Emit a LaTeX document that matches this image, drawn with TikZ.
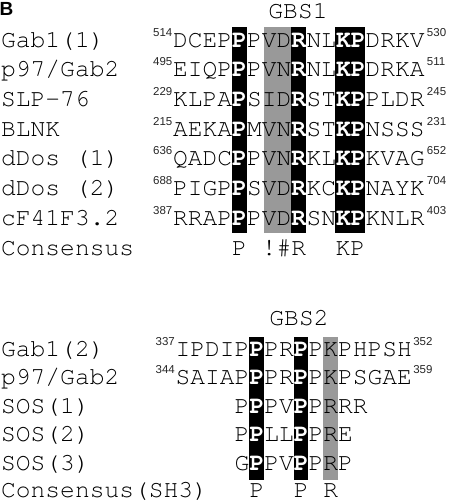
\documentclass[tikz,border=0pt]{standalone}
\usepackage{fontspec}
\setmonofont{TeX Gyre Cursor}
\setsansfont{Liberation Sans}
\usetikzlibrary{positioning}
\newcommand{\hl}[1]{\textcolor{white}{\textbf{#1}}}
\tikzset{
  seq/.style={inner sep=0pt,anchor=base west,font=\fontsize{24.6}{24.6}\selectfont\ttfamily},
  num/.style={inner sep=0pt,font=\fontsize{11.5}{11.5}\selectfont\sffamily,text=black!85},
  band/.style={fill=black!40},
  head/.style={seq,anchor=base,text height=14pt}
}
\begin{document}
\begin{tikzpicture}[x=1pt,y=-1pt]
\useasboundingbox (0,0) rectangle (450,504);
\node[inner sep=0pt,anchor=base west,font=\fontsize{19}{19}\sffamily\bfseries\selectfont] (panel) at (-0.5,15) {B};
% GBS1
\fill[band] (173+6*14.76+2,27) rectangle ++(2*14.76-2,206);
\foreach \c in {4,8,11,12} \fill (173+\c*14.76,27) rectangle ++(14.76,206);
\node[head] (gbs1) at (298,18.5) {GBS1};
\node[seq] (la) at (1,47) {Gab1(1)};
\node[seq] (lb) at (1,76.7) {p97/Gab2};
\node[seq] (lc) at (1,106.4) {SLP-76};
\node[seq] (ld) at (1,136.1) {BLNK};
\node[seq] (le) at (1,165.8) {dDos (1)};
\node[seq] (lf) at (1,195.5) {dDos (2)};
\node[seq] (lg) at (1,225.2) {cF41F3.2};
\node[seq] (lcons) at (1,255.5) {Consensus};
\node[seq] (sa) at (173,47) {DCEP\hl{P}PVD\hl{R}NL\hl{KP}DRKV};
\node[seq] (sb) at (173,76.7) {EIQP\hl{P}PVN\hl{R}NL\hl{KP}DRKA};
\node[seq] (sc) at (173,106.4) {KLPA\hl{P}SID\hl{R}ST\hl{KP}PLDR};
\node[seq] (sd) at (173,136.1) {AEKA\hl{P}MVN\hl{R}ST\hl{KP}NSSS};
\node[seq] (se) at (173,165.8) {QADC\hl{P}PVN\hl{R}KL\hl{KP}KVAG};
\node[seq] (sf) at (173,195.5) {PIGP\hl{P}SVD\hl{R}KC\hl{KP}NAYK};
\node[seq] (sg) at (173,225.2) {RRAP\hl{P}PVD\hl{R}SN\hl{KP}KNLR};
\foreach \s/\a/\b in {sa/514/530,sb/495/511,sc/229/245,sd/215/231,se/636/652,sf/688/704,sg/387/403} {
  \node[num,anchor=base east] (\s-from) at ([xshift=-0.5pt,yshift=11pt]\s.base west) {\a};
  \node[num,anchor=base west] (\s-to) at ([xshift=2pt,yshift=11pt]\s.base east) {\b};
}
\foreach \c/\t in {4/P,6/!,7/\#,8/R,11/K,12/P} \node[seq] (ca\c) at (173+\c*14.76,255.5) {\t};
% GBS2
\fill[band] (175.5+10*14.76,336.7) rectangle ++(14.76,143.3);
\foreach \c in {5,8} \fill (175.5+\c*14.76,336.7) rectangle ++(14.76,143.3);
\node[head] (gbs2) at (299,325) {GBS2};
\node[seq] (lh) at (1,356) {Gab1(2)};
\node[seq] (li) at (1,384.6) {p97/Gab2};
\node[seq] (lj) at (1,413.2) {SOS(1)};
\node[seq] (lk) at (1,441.8) {SOS(2)};
\node[seq] (ll) at (1,470.4) {SOS(3)};
\node[seq] (lsh3) at (1,497.5) {Consensus(SH3)};
\node[seq] (sh) at (175.5,356) {IPDIP\hl{P}PR\hl{P}PKPHPSH};
\node[seq] (si) at (175.5,384.6) {SAIAP\hl{P}PR\hl{P}PKPSGAE};
\node[seq] (sj) at (175.5+4*14.76,413.2) {P\hl{P}PV\hl{P}PRRR};
\node[seq] (sk) at (175.5+4*14.76,441.8) {P\hl{P}LL\hl{P}PRE};
\node[seq] (sl) at (175.5+4*14.76,470.4) {G\hl{P}PV\hl{P}PRP};
\foreach \s/\a/\b in {sh/337/352,si/344/359} {
  \node[num,anchor=base east] (\s-from) at ([xshift=-0.5pt,yshift=11pt]\s.base west) {\a};
  \node[num,anchor=base west] (\s-to) at ([xshift=1pt,yshift=11pt]\s.base east) {\b};
}
\foreach \c/\t in {5/P,8/P,10/R} \node[seq] (cb\c) at (175.5+\c*14.76,497.5) {\t};
\end{tikzpicture}
\end{document}
